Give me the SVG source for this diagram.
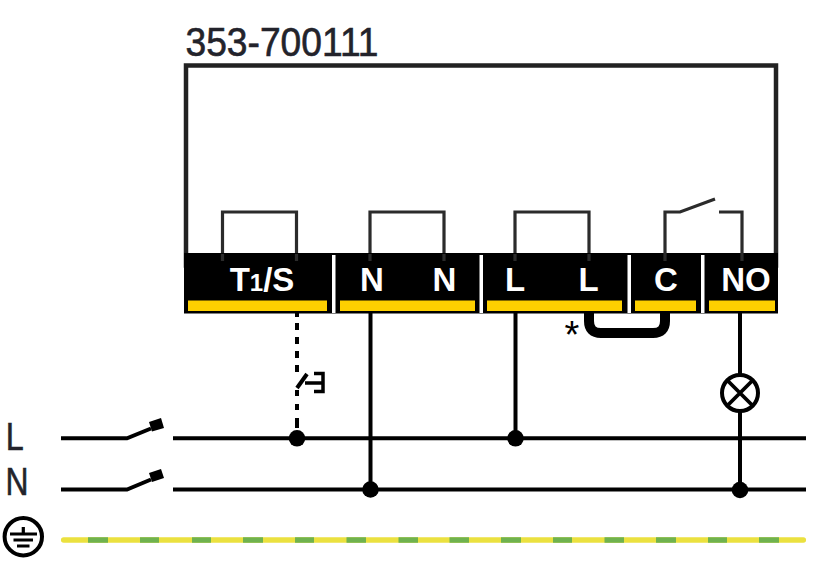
<svg xmlns="http://www.w3.org/2000/svg" width="817" height="567" viewBox="0 0 817 567">
<style>
.w{fill:none;stroke:#000;stroke-width:4}
.g{fill:none;stroke:#2b2b2b;stroke-width:3.200}
.y{fill:#fdd000}
.s{fill:#fff}
.t{font-family:"Liberation Sans",Arial,sans-serif;font-weight:bold;font-size:33px;fill:#fff;text-anchor:middle}
.l{font-family:"Liberation Sans",Arial,sans-serif;font-size:39px;fill:#23232b;stroke:#23232b;stroke-width:.6}
.d{fill:#000}
</style>
<rect width="817" height="567" fill="#fff"/>
<g id="device">
<rect x="186" y="65.500" width="590" height="200" fill="none" stroke="#222" stroke-width="4.500"/>
<text class="l" x="185.500" y="56" textLength="193" lengthAdjust="spacingAndGlyphs" style="font-size:40px">353-700111</text>
<path class="g" d="M222.500 261V212H296.500V261"/>
<path class="g" d="M370 261V212H444V261"/>
<path class="g" d="M515 261V212H589V261"/>
</g>
<g id="terminal-bar">
<rect x="184" y="253" width="594" height="60.500" fill="#000"/>
<path class="g" d="M222.500 254V261M296.500 254V261M370 254V261M444 254V261M515 254V261M589 254V261M665 254V261M742 254V261"/>
<rect class="s" x="332" y="255" width="3.500" height="58"/>
<rect class="s" x="479.500" y="255" width="3.500" height="58"/>
<rect class="s" x="627.500" y="255" width="3.500" height="58"/>
<rect class="s" x="701" y="255" width="3.500" height="58"/>
</g>
<g id="terminal-t1s">
<rect class="y" x="188" y="300.500" width="139" height="10.500"/>
<text class="t" x="262" y="291">T<tspan style="font-size:24px">1</tspan>/S</text>
</g>
<g id="terminal-n">
<rect class="y" x="340" y="300.500" width="135" height="10.500"/>
<text class="t" x="372" y="291">N</text>
<text class="t" x="444.500" y="291">N</text>
</g>
<g id="terminal-l">
<rect class="y" x="487" y="300.500" width="135" height="10.500"/>
<text class="t" x="515" y="291">L</text>
<text class="t" x="588.500" y="291">L</text>
</g>
<g id="terminal-c">
<rect class="y" x="635" y="300.500" width="61" height="10.500"/>
<text class="t" x="666" y="291">C</text>
<path class="g" d="M665 254V212H680L715 199"/>
</g>
<g id="terminal-no">
<rect class="y" x="709" y="300.500" width="66" height="10.500"/>
<text class="t" x="746" y="291">NO</text>
<path class="g" d="M719 212H742V254"/>
</g>
<g id="connectors">
<path class="w" d="M61 438.300H127L151 428.500M173 438.300H806"/>
<path class="w" d="M61 489.500H127L151 479.500M173 489.500H806"/>
<path d="M149 422L161 418L164 428L152 431.500Z" class="d"/>
<path d="M149 473L161 469L164 478L152 482Z" class="d"/>
<path d="M63.700 540H803.300" fill="none" stroke="#ebe13f" stroke-width="5.500" stroke-linecap="round"/>
<path d="M88 540H108M140 540H159M192 540H211M243 540H263M295 540H314M346.500 540H366M398.500 540H418M449.500 540H469M501 540H521M553 540H572M604.500 540H624M656 540H676M708 540H727M759 540H779" fill="none" stroke="#6fb24f" stroke-width="5.500"/>
<path d="M297 313V317M297 323V330M297 337V344M297 351V358M297 365V372M297 390V396M297 404V410M297 418V428" fill="none" stroke="#000" stroke-width="4"/>
<path d="M297 388L307 374" fill="none" stroke="#000" stroke-width="4"/>
<path d="M305 383H323M314 373.500H323V391.500H314" fill="none" stroke="#000" stroke-width="3.500"/>
<path class="w" d="M370.500 313V489"/>
<path class="w" d="M515.500 313V438"/>
<path class="w" d="M740 313V489"/>
<path d="M589 313V321Q589 333 601 333H653Q665 333 665 321V313" fill="none" stroke="#000" stroke-width="10"/>
<circle class="d" cx="297" cy="438.300" r="8.300"/>
<circle class="d" cx="370.500" cy="489.500" r="8.300"/>
<circle class="d" cx="515.500" cy="438.300" r="8.300"/>
<circle class="d" cx="740" cy="490" r="8.300"/>
</g>
<g id="lamp">
<circle cx="740" cy="393" r="18" fill="#fff" stroke="#000" stroke-width="4"/>
<path d="M727 380L753 406M753 380L727 406" fill="none" stroke="#000" stroke-width="3.800"/>
</g>
<g id="labels">
<text class="l" x="5.700" y="450" textLength="18" lengthAdjust="spacingAndGlyphs">L</text>
<text class="l" x="5.500" y="495" textLength="23" lengthAdjust="spacingAndGlyphs">N</text>
<text x="572" y="348" style="font-family:'Liberation Sans',Arial,sans-serif;font-size:38px" text-anchor="middle" fill="#000">*</text>
</g>
<g id="earth">
<circle cx="23.300" cy="536.700" r="18.700" fill="none" stroke="#000" stroke-width="4"/>
<path d="M23.300 527V534M10 534H37M13.500 540H33M17 546H29.500" fill="none" stroke="#000" stroke-width="3.200"/>
</g>
</svg>
